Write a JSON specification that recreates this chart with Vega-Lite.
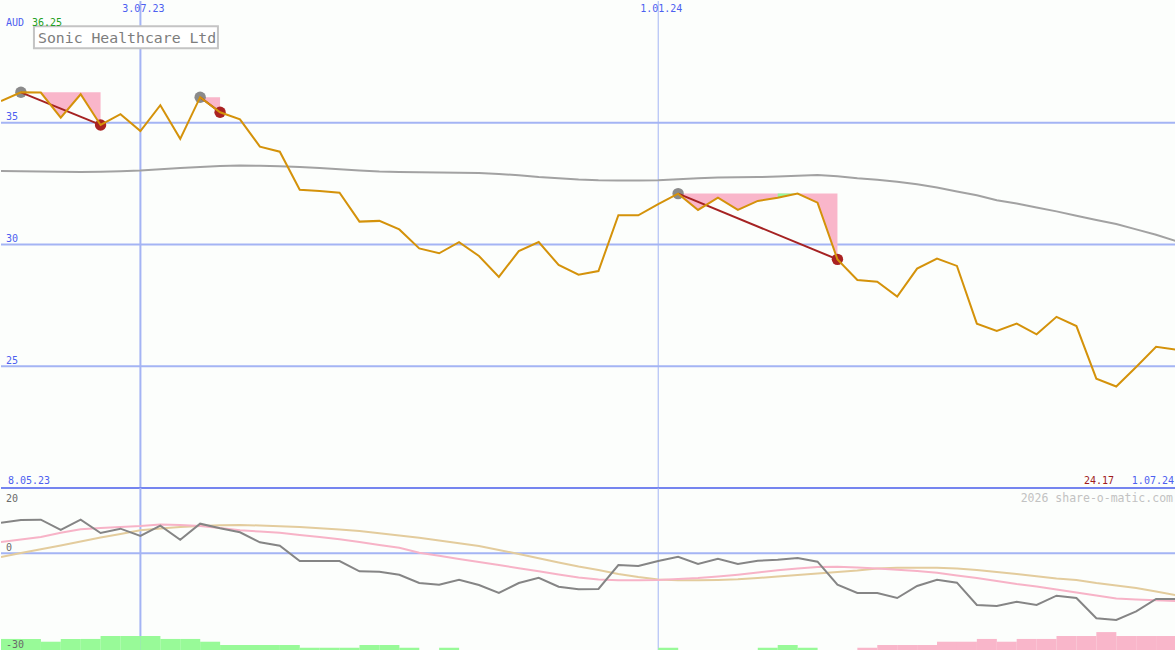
{
  "$schema": "https://vega.github.io/schema/vega-lite/v6.json",
  "background": "#fcfefc",
  "padding": 0,
  "spacing": 0,
  "bounds": "flush",
  "resolve": {"scale": {"color": "independent", "strokeWidth": "independent"}},
  "config": {"view": {"stroke": null}, "font": "DejaVu Sans Mono", "scale": {"continuousPadding": 0}},
  "datasets": {
    "weekly": [
      {"date": "2023-05-15", "close": 35.89, "ma": 33.02, "osc": 9.36, "avg1": 3.44, "avg2": -1.17, "hist": 3.7, "dir": "up"},
      {"date": "2023-05-22", "close": 36.25, "ma": 33.01, "osc": 10.18, "avg1": 4.20, "avg2": 0.06, "hist": 3.7, "dir": "up"},
      {"date": "2023-05-29", "close": 36.24, "ma": 33.00, "osc": 10.28, "avg1": 4.97, "avg2": 1.20, "hist": 2.85, "dir": "up"},
      {"date": "2023-06-05", "close": 35.21, "ma": 32.99, "osc": 7.12, "avg1": 6.29, "avg2": 2.36, "hist": 3.7, "dir": "up"},
      {"date": "2023-06-12", "close": 36.17, "ma": 32.98, "osc": 10.28, "avg1": 7.33, "avg2": 3.59, "hist": 3.7, "dir": "up"},
      {"date": "2023-06-19", "close": 34.91, "ma": 32.99, "osc": 6.20, "avg1": 7.73, "avg2": 4.82, "hist": 4.6, "dir": "up"},
      {"date": "2023-06-26", "close": 35.35, "ma": 33.01, "osc": 7.52, "avg1": 8.04, "avg2": 5.89, "hist": 4.6, "dir": "up"},
      {"date": "2023-07-03", "close": 34.66, "ma": 33.04, "osc": 5.28, "avg1": 8.34, "avg2": 7.02, "hist": 4.6, "dir": "up"},
      {"date": "2023-07-10", "close": 35.72, "ma": 33.09, "osc": 8.44, "avg1": 8.80, "avg2": 7.58, "hist": 3.7, "dir": "up"},
      {"date": "2023-07-17", "close": 34.34, "ma": 33.14, "osc": 4.14, "avg1": 8.65, "avg2": 8.04, "hist": 3.7, "dir": "up"},
      {"date": "2023-07-24", "close": 36.05, "ma": 33.18, "osc": 9.05, "avg1": 8.34, "avg2": 8.34, "hist": 2.85, "dir": "up"},
      {"date": "2023-07-31", "close": 35.43, "ma": 33.22, "osc": 7.64, "avg1": 7.73, "avg2": 8.56, "hist": 1.85, "dir": "up"},
      {"date": "2023-08-07", "close": 35.14, "ma": 33.24, "osc": 6.41, "avg1": 7.02, "avg2": 8.65, "hist": 1.85, "dir": "up"},
      {"date": "2023-08-14", "close": 34.02, "ma": 33.23, "osc": 3.34, "avg1": 6.66, "avg2": 8.50, "hist": 1.85, "dir": "up"},
      {"date": "2023-08-21", "close": 33.81, "ma": 33.21, "osc": 2.30, "avg1": 6.29, "avg2": 8.28, "hist": 1.85, "dir": "up"},
      {"date": "2023-08-28", "close": 32.25, "ma": 33.18, "osc": -2.39, "avg1": 5.58, "avg2": 8.04, "hist": 1.0, "dir": "up"},
      {"date": "2023-09-04", "close": 32.20, "ma": 33.14, "osc": -2.39, "avg1": 4.97, "avg2": 7.67, "hist": 1.0, "dir": "up"},
      {"date": "2023-09-11", "close": 32.13, "ma": 33.09, "osc": -2.39, "avg1": 4.26, "avg2": 7.27, "hist": 1.0, "dir": "up"},
      {"date": "2023-09-18", "close": 30.94, "ma": 33.04, "osc": -5.55, "avg1": 3.44, "avg2": 6.81, "hist": 1.85, "dir": "up"},
      {"date": "2023-09-25", "close": 30.97, "ma": 33.00, "osc": -5.67, "avg1": 2.52, "avg2": 6.13, "hist": 1.85, "dir": "up"},
      {"date": "2023-10-02", "close": 30.62, "ma": 32.98, "osc": -6.60, "avg1": 1.69, "avg2": 5.43, "hist": 1.0, "dir": "up"},
      {"date": "2023-10-09", "close": 29.84, "ma": 32.97, "osc": -9.14, "avg1": 0.15, "avg2": 4.75, "hist": 0, "dir": "up"},
      {"date": "2023-10-16", "close": 29.64, "ma": 32.96, "osc": -9.66, "avg1": -0.80, "avg2": 3.90, "hist": 1.0, "dir": "up"},
      {"date": "2023-10-23", "close": 30.10, "ma": 32.95, "osc": -8.13, "avg1": -1.78, "avg2": 3.07, "hist": 0, "dir": "up"},
      {"date": "2023-10-30", "close": 29.53, "ma": 32.94, "osc": -9.75, "avg1": -2.70, "avg2": 2.21, "hist": 0, "dir": "up"},
      {"date": "2023-11-06", "close": 28.67, "ma": 32.90, "osc": -12.21, "avg1": -3.62, "avg2": 0.98, "hist": 0, "dir": "up"},
      {"date": "2023-11-13", "close": 29.73, "ma": 32.84, "osc": -9.14, "avg1": -4.60, "avg2": -0.25, "hist": 0, "dir": "up"},
      {"date": "2023-11-20", "close": 30.10, "ma": 32.77, "osc": -7.52, "avg1": -5.55, "avg2": -1.56, "hist": 0, "dir": "up"},
      {"date": "2023-11-27", "close": 29.16, "ma": 32.72, "osc": -10.28, "avg1": -6.50, "avg2": -2.85, "hist": 0, "dir": "up"},
      {"date": "2023-12-04", "close": 28.76, "ma": 32.67, "osc": -11.07, "avg1": -7.45, "avg2": -4.08, "hist": 0, "dir": "up"},
      {"date": "2023-12-11", "close": 28.91, "ma": 32.64, "osc": -10.98, "avg1": -8.07, "avg2": -5.15, "hist": 0, "dir": "up"},
      {"date": "2023-12-18", "close": 31.20, "ma": 32.63, "osc": -3.62, "avg1": -8.31, "avg2": -6.38, "hist": 0, "dir": "up"},
      {"date": "2023-12-25", "close": 31.20, "ma": 32.63, "osc": -3.93, "avg1": -8.31, "avg2": -7.30, "hist": 0, "dir": "up"},
      {"date": "2024-01-01", "close": 31.66, "ma": 32.64, "osc": -2.39, "avg1": -8.22, "avg2": -8.07, "hist": 1.0, "dir": "up"},
      {"date": "2024-01-08", "close": 32.09, "ma": 32.68, "osc": -1.07, "avg1": -7.91, "avg2": -8.31, "hist": 0, "dir": "up"},
      {"date": "2024-01-15", "close": 31.42, "ma": 32.72, "osc": -3.31, "avg1": -7.61, "avg2": -8.31, "hist": 0, "dir": "up"},
      {"date": "2024-01-22", "close": 31.92, "ma": 32.75, "osc": -1.69, "avg1": -7.15, "avg2": -8.22, "hist": 0, "dir": "up"},
      {"date": "2024-01-29", "close": 31.42, "ma": 32.76, "osc": -3.31, "avg1": -6.60, "avg2": -8.00, "hist": 0, "dir": "up"},
      {"date": "2024-02-05", "close": 31.79, "ma": 32.77, "osc": -2.30, "avg1": -5.92, "avg2": -7.61, "hist": 1.0, "dir": "up"},
      {"date": "2024-02-12", "close": 31.92, "ma": 32.79, "osc": -1.99, "avg1": -5.25, "avg2": -7.15, "hist": 1.85, "dir": "up"},
      {"date": "2024-02-19", "close": 32.09, "ma": 32.82, "osc": -1.47, "avg1": -4.69, "avg2": -6.69, "hist": 1.0, "dir": "up"},
      {"date": "2024-02-26", "close": 31.72, "ma": 32.85, "osc": -2.61, "avg1": -4.23, "avg2": -6.23, "hist": 0, "dir": "up"},
      {"date": "2024-03-04", "close": 29.39, "ma": 32.80, "osc": -9.66, "avg1": -4.14, "avg2": -5.77, "hist": 0, "dir": "up"},
      {"date": "2024-03-11", "close": 28.54, "ma": 32.72, "osc": -12.21, "avg1": -4.39, "avg2": -5.31, "hist": 1.0, "dir": "down"},
      {"date": "2024-03-18", "close": 28.47, "ma": 32.66, "osc": -12.21, "avg1": -4.69, "avg2": -4.69, "hist": 1.85, "dir": "down"},
      {"date": "2024-03-25", "close": 27.86, "ma": 32.58, "osc": -13.74, "avg1": -5.06, "avg2": -4.45, "hist": 1.85, "dir": "down"},
      {"date": "2024-04-01", "close": 29.01, "ma": 32.47, "osc": -10.06, "avg1": -5.46, "avg2": -4.45, "hist": 1.85, "dir": "down"},
      {"date": "2024-04-08", "close": 29.42, "ma": 32.34, "osc": -8.13, "avg1": -5.98, "avg2": -4.45, "hist": 2.85, "dir": "down"},
      {"date": "2024-04-15", "close": 29.12, "ma": 32.18, "osc": -9.05, "avg1": -6.84, "avg2": -4.69, "hist": 2.85, "dir": "down"},
      {"date": "2024-04-22", "close": 26.75, "ma": 32.02, "osc": -15.89, "avg1": -7.61, "avg2": -5.15, "hist": 3.7, "dir": "down"},
      {"date": "2024-04-29", "close": 26.45, "ma": 31.82, "osc": -16.20, "avg1": -8.53, "avg2": -5.77, "hist": 2.85, "dir": "down"},
      {"date": "2024-05-06", "close": 26.75, "ma": 31.68, "osc": -14.88, "avg1": -9.45, "avg2": -6.38, "hist": 3.7, "dir": "down"},
      {"date": "2024-05-13", "close": 26.31, "ma": 31.52, "osc": -15.89, "avg1": -10.21, "avg2": -7.09, "hist": 3.7, "dir": "down"},
      {"date": "2024-05-20", "close": 27.03, "ma": 31.36, "osc": -13.04, "avg1": -11.13, "avg2": -7.76, "hist": 4.6, "dir": "down"},
      {"date": "2024-05-27", "close": 26.65, "ma": 31.18, "osc": -13.74, "avg1": -12.06, "avg2": -8.22, "hist": 4.6, "dir": "down"},
      {"date": "2024-06-03", "close": 24.49, "ma": 31.01, "osc": -19.97, "avg1": -12.98, "avg2": -9.14, "hist": 5.8, "dir": "down"},
      {"date": "2024-06-10", "close": 24.17, "ma": 30.84, "osc": -20.49, "avg1": -13.90, "avg2": -9.91, "hist": 4.6, "dir": "down"},
      {"date": "2024-06-17", "close": 24.97, "ma": 30.62, "osc": -17.82, "avg1": -14.20, "avg2": -10.68, "hist": 4.6, "dir": "down"},
      {"date": "2024-06-24", "close": 25.80, "ma": 30.40, "osc": -14.05, "avg1": -14.42, "avg2": -11.75, "hist": 4.6, "dir": "down"},
      {"date": "2024-07-01", "close": 25.68, "ma": 30.14, "osc": -14.05, "avg1": -14.66, "avg2": -12.91, "hist": 4.6, "dir": "down"}
    ],
    "drawdown": [
      {"grp": "A", "zone": "loss", "date": "2023-05-22", "price": 36.25, "peak": 36.25},
      {"grp": "A", "zone": "loss", "date": "2023-05-29", "price": 36.24, "peak": 36.25},
      {"grp": "A", "zone": "loss", "date": "2023-06-05", "price": 35.21, "peak": 36.25},
      {"grp": "A", "zone": "loss", "date": "2023-06-12", "price": 36.17, "peak": 36.25},
      {"grp": "A", "zone": "loss", "date": "2023-06-19", "price": 34.91, "peak": 36.25},
      {"grp": "B", "zone": "loss", "date": "2023-07-24", "price": 36.05, "peak": 36.05},
      {"grp": "B", "zone": "loss", "date": "2023-07-31", "price": 35.43, "peak": 36.05},
      {"grp": "C", "zone": "loss", "date": "2024-01-08", "price": 32.09, "peak": 32.09},
      {"grp": "C", "zone": "loss", "date": "2024-01-15", "price": 31.42, "peak": 32.09},
      {"grp": "C", "zone": "loss", "date": "2024-01-22", "price": 31.92, "peak": 32.09},
      {"grp": "C", "zone": "loss", "date": "2024-01-29", "price": 31.42, "peak": 32.09},
      {"grp": "C", "zone": "loss", "date": "2024-02-05", "price": 31.79, "peak": 32.09},
      {"grp": "C", "zone": "loss", "date": "2024-02-12", "price": 31.92, "peak": 32.09},
      {"grp": "C", "zone": "loss", "date": "2024-02-19", "price": 32.09, "peak": 32.09},
      {"grp": "C", "zone": "loss", "date": "2024-02-26", "price": 31.72, "peak": 32.09},
      {"grp": "C", "zone": "loss", "date": "2024-03-04", "price": 29.39, "peak": 32.09},
      {"grp": "G", "zone": "gain", "date": "2024-02-12", "price": 31.92, "peak": 32.09},
      {"grp": "G", "zone": "gain", "date": "2024-02-19", "price": 32.09, "peak": 32.09}
    ],
    "signals": [
      {"grp": "A", "kind": "peak", "date": "2023-05-22", "price": 36.25},
      {"grp": "A", "kind": "trough", "date": "2023-06-19", "price": 34.91},
      {"grp": "B", "kind": "peak", "date": "2023-07-24", "price": 36.05},
      {"grp": "B", "kind": "trough", "date": "2023-07-31", "price": 35.43},
      {"grp": "C", "kind": "peak", "date": "2024-01-08", "price": 32.09},
      {"grp": "C", "kind": "trough", "date": "2024-03-04", "price": 29.39}
    ],
    "dateGrid": [
      {"date": "2023-07-03", "label": "3.07.23", "boundary": "month"},
      {"date": "2024-01-01", "label": "1.01.24", "boundary": "year"}
    ],
    "priceGrid": [
      {"level": 25}, {"level": 30}, {"level": 35}
    ],
    "oscGrid": [
      {"level": 0}
    ]
  },
  "vconcat": [
    {
      "width": 1175,
      "height": 487,
      "layer": [
        {
          "data": {"name": "priceGrid"},
          "mark": {"type": "rule", "color": "#a4b4f4", "strokeWidth": 2},
          "encoding": {
            "y": {"field": "level", "type": "quantitative", "scale": {"domain": [20, 40]}, "axis": null}
          }
        },
        {
          "data": {"name": "dateGrid"},
          "mark": {"type": "rule", "color": "#a4b4f4"},
          "encoding": {
            "x": {"field": "date", "type": "temporal", "scale": {"type": "utc", "domain": [1684108800000, 1719792000000]}, "axis": null},
            "strokeWidth": {"field": "boundary", "type": "nominal", "scale": {"domain": ["month", "year"], "range": [2, 1]}, "legend": null}
          }
        },
        {
          "data": {"name": "priceGrid"},
          "mark": {"type": "text", "align": "left", "baseline": "alphabetic", "dx": 5, "dy": -2.5, "fontSize": 10, "font": "DejaVu Sans Mono", "color": "#4d5ff0"},
          "encoding": {
            "x": {"datum": 1684108800000, "type": "temporal", "axis": null},
            "y": {"field": "level", "type": "quantitative", "scale": {"domain": [20, 40]}, "axis": null},
            "text": {"field": "level", "type": "quantitative"}
          }
        },
        {
          "data": {"name": "dateGrid"},
          "mark": {"type": "text", "align": "center", "baseline": "top", "dx": 3, "dy": 3, "fontSize": 10, "font": "DejaVu Sans Mono", "color": "#4d5ff0"},
          "encoding": {
            "x": {"field": "date", "type": "temporal", "axis": null},
            "y": {"datum": 40, "type": "quantitative", "scale": {"domain": [20, 40]}, "axis": null},
            "text": {"field": "label", "type": "nominal"}
          }
        },
        {
          "data": {"name": "drawdown"},
          "transform": [{"filter": "datum.zone === 'loss'"}],
          "mark": {"type": "area", "color": "#f9b6ca", "opacity": 1, "clip": true},
          "encoding": {
            "x": {"field": "date", "type": "temporal", "axis": null},
            "y": {"field": "price", "type": "quantitative", "scale": {"domain": [20, 40]}, "axis": null},
            "y2": {"field": "peak"},
            "detail": {"field": "grp"}
          }
        },
        {
          "data": {"name": "drawdown"},
          "transform": [{"filter": "datum.zone === 'gain'"}],
          "mark": {"type": "area", "color": "#98f898", "opacity": 1, "clip": true},
          "encoding": {
            "x": {"field": "date", "type": "temporal", "axis": null},
            "y": {"field": "price", "type": "quantitative", "scale": {"domain": [20, 40]}, "axis": null},
            "y2": {"field": "peak"},
            "detail": {"field": "grp"}
          }
        },
        {
          "data": {"name": "weekly"},
          "mark": {"type": "line", "color": "#a2a2a2", "strokeWidth": 2, "clip": true},
          "encoding": {
            "x": {"field": "date", "type": "temporal", "axis": null},
            "y": {"field": "ma", "type": "quantitative", "scale": {"domain": [20, 40]}, "axis": null}
          }
        },
        {
          "data": {"name": "signals"},
          "mark": {"type": "point", "filled": true, "opacity": 1, "size": 130},
          "encoding": {
            "x": {"field": "date", "type": "temporal", "axis": null},
            "y": {"field": "price", "type": "quantitative", "scale": {"domain": [20, 40]}, "axis": null},
            "color": {"field": "kind", "type": "nominal", "scale": {"domain": ["peak", "trough"], "range": ["#8a8a8a", "#aa2222"]}, "legend": null}
          }
        },
        {
          "data": {"name": "signals"},
          "mark": {"type": "line", "color": "#a52222", "strokeWidth": 2, "clip": true},
          "encoding": {
            "x": {"field": "date", "type": "temporal", "axis": null},
            "y": {"field": "price", "type": "quantitative", "scale": {"domain": [20, 40]}, "axis": null},
            "detail": {"field": "grp"}
          }
        },
        {
          "data": {"name": "weekly"},
          "mark": {"type": "line", "color": "#d4920a", "strokeWidth": 2, "clip": true},
          "encoding": {
            "x": {"field": "date", "type": "temporal", "axis": null},
            "y": {"field": "close", "type": "quantitative", "scale": {"domain": [20, 40]}, "axis": null}
          }
        },
        {
          "data": {"values": [{"edge": 20}]},
          "mark": {"type": "rule", "color": "#7585ef", "strokeWidth": 2},
          "encoding": {
            "y": {"field": "edge", "type": "quantitative", "scale": {"domain": [20, 40]}, "axis": null}
          }
        },
        {
          "data": {"values": [{}]},
          "mark": {"type": "rect", "fill": "#ffffff", "stroke": "#c4c4c4", "strokeWidth": 2},
          "encoding": {
            "x": {"datum": 1685109600000, "type": "temporal", "axis": null},
            "x2": {"datum": 1690696800000},
            "y": {"datum": 38.96, "type": "quantitative", "scale": {"domain": [20, 40]}, "axis": null},
            "y2": {"datum": 38.06}
          }
        },
        {
          "data": {"values": [{}]},
          "mark": {"type": "text", "text": "Sonic Healthcare Ltd", "align": "left", "baseline": "alphabetic", "dx": 37, "dy": 41.5, "fontSize": 14.8, "font": "DejaVu Sans Mono", "color": "#7d7d7d"},
          "encoding": {
            "x": {"datum": 1684108800000, "type": "temporal", "axis": null},
            "y": {"datum": 40, "type": "quantitative", "scale": {"domain": [20, 40]}, "axis": null}
          }
        },
        {
          "data": {"values": [{}]},
          "mark": {"type": "text", "text": "AUD", "align": "left", "baseline": "alphabetic", "dx": 5, "dy": 24.5, "fontSize": 10, "font": "DejaVu Sans Mono", "color": "#4d5ff0"},
          "encoding": {
            "x": {"datum": 1684108800000, "type": "temporal", "axis": null},
            "y": {"datum": 40, "type": "quantitative", "scale": {"domain": [20, 40]}, "axis": null}
          }
        },
        {
          "data": {"values": [{}]},
          "mark": {"type": "text", "text": "36.25", "align": "left", "baseline": "alphabetic", "dx": 31, "dy": 24.5, "fontSize": 10, "font": "DejaVu Sans Mono", "color": "#22a022"},
          "encoding": {
            "x": {"datum": 1684108800000, "type": "temporal", "axis": null},
            "y": {"datum": 40, "type": "quantitative", "scale": {"domain": [20, 40]}, "axis": null}
          }
        },
        {
          "data": {"values": [{}]},
          "mark": {"type": "text", "text": "8.05.23", "align": "left", "baseline": "alphabetic", "dx": 7, "dy": -4.3, "fontSize": 10, "font": "DejaVu Sans Mono", "color": "#4d5ff0"},
          "encoding": {
            "x": {"datum": 1684108800000, "type": "temporal", "axis": null},
            "y": {"datum": 20, "type": "quantitative", "scale": {"domain": [20, 40]}, "axis": null}
          }
        },
        {
          "data": {"values": [{}]},
          "mark": {"type": "text", "text": "24.17", "align": "right", "baseline": "alphabetic", "dx": -62, "dy": -4.3, "fontSize": 10, "font": "DejaVu Sans Mono", "color": "#a01c1c"},
          "encoding": {
            "x": {"datum": 1719792000000, "type": "temporal", "axis": null},
            "y": {"datum": 20, "type": "quantitative", "scale": {"domain": [20, 40]}, "axis": null}
          }
        },
        {
          "data": {"values": [{}]},
          "mark": {"type": "text", "text": "1.07.24", "align": "right", "baseline": "alphabetic", "dx": -2, "dy": -4.3, "fontSize": 10, "font": "DejaVu Sans Mono", "color": "#4d5ff0"},
          "encoding": {
            "x": {"datum": 1719792000000, "type": "temporal", "axis": null},
            "y": {"datum": 20, "type": "quantitative", "scale": {"domain": [20, 40]}, "axis": null}
          }
        }
      ]
    },
    {
      "width": 1175,
      "height": 163,
      "resolve": {"scale": {"y": "independent"}},
      "layer": [
        {
          "layer": [
            {
              "data": {"name": "oscGrid"},
              "mark": {"type": "rule", "color": "#a4b4f4", "strokeWidth": 2},
              "encoding": {
                "y": {"field": "level", "type": "quantitative", "scale": {"domain": [-30, 20]}, "axis": null}
              }
            },
            {
              "data": {"name": "dateGrid"},
              "mark": {"type": "rule", "color": "#a4b4f4"},
              "encoding": {
                "x": {"field": "date", "type": "temporal", "scale": {"type": "utc", "domain": [1684108800000, 1719792000000]}, "axis": null},
                "strokeWidth": {"field": "boundary", "type": "nominal", "scale": {"domain": ["month", "year"], "range": [2, 1]}, "legend": null}
              }
            }
          ]
        },
        {
          "data": {"name": "weekly"},
          "mark": {"type": "bar", "width": 20, "xOffset": 10, "clip": true},
          "encoding": {
            "x": {"field": "date", "type": "temporal", "scale": {"type": "utc", "domain": [1684108800000, 1719792000000], "padding": 0}, "axis": null},
            "y": {"field": "hist", "type": "quantitative", "scale": {"domain": [0, 50]}, "axis": null},
            "color": {"field": "dir", "type": "nominal", "scale": {"domain": ["up", "down"], "range": ["#98fa98", "#f9b6ca"]}, "legend": null}
          }
        },
        {
          "layer": [
            {
              "data": {"name": "weekly"},
              "mark": {"type": "line", "color": "#e3cc9d", "strokeWidth": 2, "clip": true},
              "encoding": {
                "x": {"field": "date", "type": "temporal", "axis": null},
                "y": {"field": "avg2", "type": "quantitative", "scale": {"domain": [-30, 20]}, "axis": null}
              }
            },
            {
              "data": {"name": "weekly"},
              "mark": {"type": "line", "color": "#f7b3c7", "strokeWidth": 2, "clip": true},
              "encoding": {
                "x": {"field": "date", "type": "temporal", "axis": null},
                "y": {"field": "avg1", "type": "quantitative", "scale": {"domain": [-30, 20]}, "axis": null}
              }
            },
            {
              "data": {"name": "weekly"},
              "mark": {"type": "line", "color": "#858585", "strokeWidth": 2, "clip": true},
              "encoding": {
                "x": {"field": "date", "type": "temporal", "axis": null},
                "y": {"field": "osc", "type": "quantitative", "scale": {"domain": [-30, 20]}, "axis": null}
              }
            },
            {
              "data": {"values": [{}]},
              "mark": {"type": "text", "text": "20", "align": "left", "baseline": "alphabetic", "dx": 5, "dy": 13.7, "fontSize": 10, "font": "DejaVu Sans Mono", "color": "#6a6a6a"},
              "encoding": {
                "x": {"datum": 1684108800000, "type": "temporal", "axis": null},
                "y": {"datum": 20, "type": "quantitative", "scale": {"domain": [-30, 20]}, "axis": null}
              }
            },
            {
              "data": {"values": [{}]},
              "mark": {"type": "text", "text": "0", "align": "left", "baseline": "alphabetic", "dx": 5, "dy": -2.2, "fontSize": 10, "font": "DejaVu Sans Mono", "color": "#6a6a6a"},
              "encoding": {
                "x": {"datum": 1684108800000, "type": "temporal", "axis": null},
                "y": {"datum": 0, "type": "quantitative", "scale": {"domain": [-30, 20]}, "axis": null}
              }
            },
            {
              "data": {"values": [{}]},
              "mark": {"type": "text", "text": "-30", "align": "left", "baseline": "alphabetic", "dx": 5, "dy": -3.3, "fontSize": 10, "font": "DejaVu Sans Mono", "color": "#6a6a6a"},
              "encoding": {
                "x": {"datum": 1684108800000, "type": "temporal", "axis": null},
                "y": {"datum": -30, "type": "quantitative", "scale": {"domain": [-30, 20]}, "axis": null}
              }
            },
            {
              "data": {"values": [{}]},
              "mark": {"type": "text", "text": "2026 share-o-matic.com", "align": "right", "baseline": "alphabetic", "dx": -3, "dy": 13.7, "fontSize": 11.5, "font": "DejaVu Sans Mono", "color": "#c2c2c2"},
              "encoding": {
                "x": {"datum": 1719792000000, "type": "temporal", "axis": null},
                "y": {"datum": 20, "type": "quantitative", "scale": {"domain": [-30, 20]}, "axis": null}
              }
            }
          ]
        }
      ]
    }
  ]
}
